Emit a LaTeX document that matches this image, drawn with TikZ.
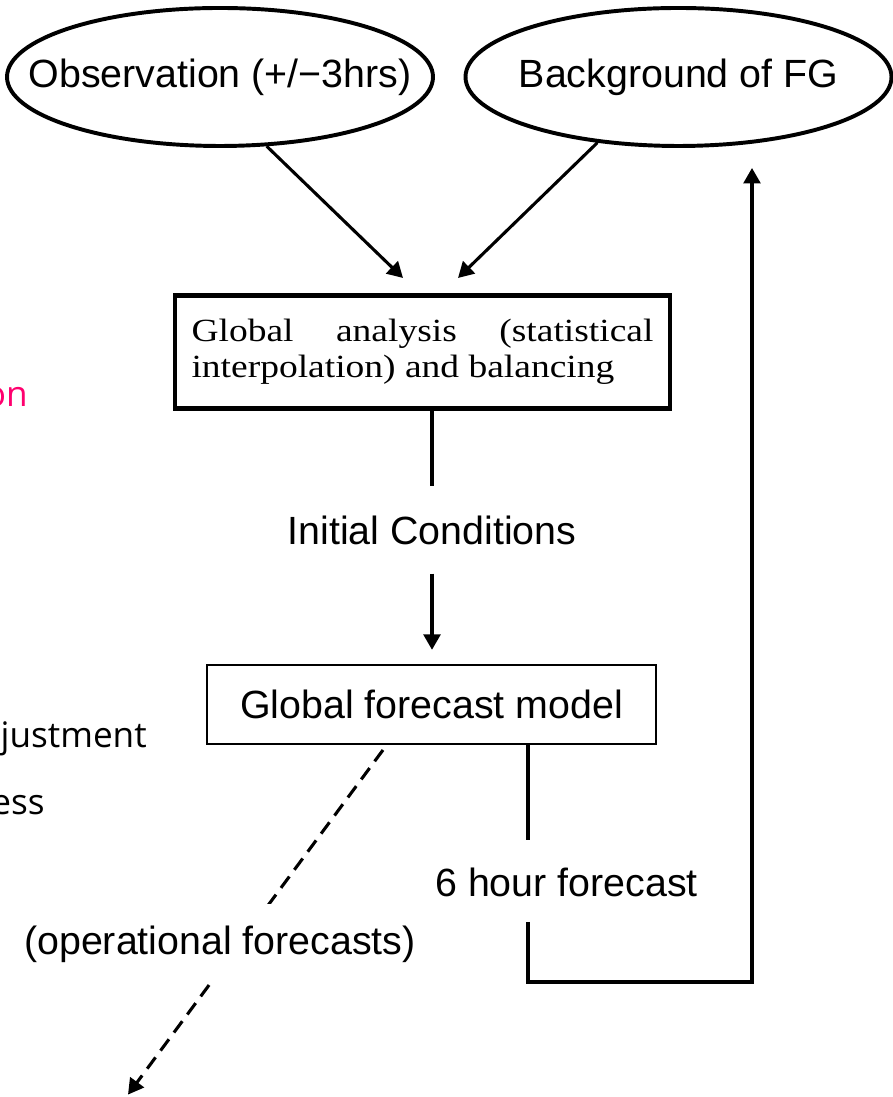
\documentclass[tikz,border=0pt]{standalone}
\usepackage{fontspec}
\setsansfont{Liberation Sans}
\newfontfamily\sidefont{Open Sans}
\newfontfamily\anafont[FakeStretch=1.16]{Liberation Serif}
\usetikzlibrary{shapes.geometric,arrows.meta}
\definecolor{pinkred}{RGB}{255,0,110}
\tikzset{
    srcell/.style={ellipse, draw, line width=2.8pt, minimum width=10.65cm, minimum height=3.45cm, inner xsep=-1.2cm, inner ysep=0pt, font=\sffamily\fontsize{28}{34}\selectfont},
    lbl/.style={font=\sffamily\fontsize{28}{34}\selectfont},
    arr/.style={-{Triangle[length=11pt,width=12pt]}},
    sidetxt/.style={font=\sidefont\fontsize{25}{30}\selectfont, anchor=base east, inner sep=0pt},
}

\begin{document}
\begin{tikzpicture}
    \useasboundingbox (0,0) rectangle (22.325,27.425);

    % Cut-off texts on the left edge
    \node[sidetxt, text=pinkred] (sideA) at (0.7, 17.25) {on};
    \node[sidetxt] (sideB) at (3.675, 8.725) {justment};
    \node[sidetxt] (sideC) at (1.125, 7.05) {ess};

    % Inputs
    \node[srcell] (obs) at (5.5, 25.5) {Observation (+/−3hrs)};
    \node[srcell] (bg) at (16.9625, 25.5) {Background of FG};

    % Analysis box
    \node[draw, line width=3.2pt, minimum width=12.375cm, minimum height=2.825cm, text width=11.55cm, align=justify, inner sep=0pt, font=\anafont\fontsize{23}{26}\selectfont] (ana) at (10.5625, 18.625) {\hyphenpenalty=10000\relax Global analysis (statistical interpolation) and balancing\par};

    % Arrows into the analysis
    \coordinate (anaL) at (10.075, 20.475);
    \coordinate (anaR) at (11.45, 20.475);
    \draw[arr, line width=2.2pt] (obs.-56.3) -- (anaL);
    \draw[arr, line width=2.2pt] (bg.-141.6) -- (anaR);

    % Initial conditions
    \node[lbl, inner ysep=20.5pt] (ic) at (10.8, 14.175) {Initial Conditions};
    \draw[line width=2.2pt] (ana.south -| ic.north) -- (ic.north);

    % Forecast model
    \node[draw, line width=1.6pt, minimum width=11.225cm, minimum height=1.975cm, lbl] (gfm) at (10.7875, 9.8125) {Global forecast model};
    \draw[arr, line width=2.2pt, shorten >=10pt] (ic.south) -- (ic.south |- gfm.north);

    % Operational branch (dashed)
    \coordinate (opsS) at (9.575, 8.675);
    \coordinate (opsE) at (3.2, 0.06);
    \draw[arr, line width=2.2pt, dash pattern=on 10pt off 6pt] (opsS) -- (opsE);
    \node[lbl, fill=white, inner ysep=15.5pt] (ops) at (5.5, 3.825) {(operational forecasts)};

    % 6 hour forecast fed back as background
    \node[lbl] (fh) at (14.1625, 5.375) {6 hour forecast};
    \coordinate (fbtop) at (13.2, 6.425);
    \coordinate (fbbot) at (13.2, 4.375);
    \coordinate (fbcorner) at (18.8, 2.875);
    \coordinate (fbend) at (18.8, 23.225);
    \draw[line width=2.2pt] (gfm.south -| fbtop) -- (fbtop);
    \draw[arr, line width=2.2pt] (fbbot) |- (fbcorner) -- (fbend);

\end{tikzpicture}
\end{document}
